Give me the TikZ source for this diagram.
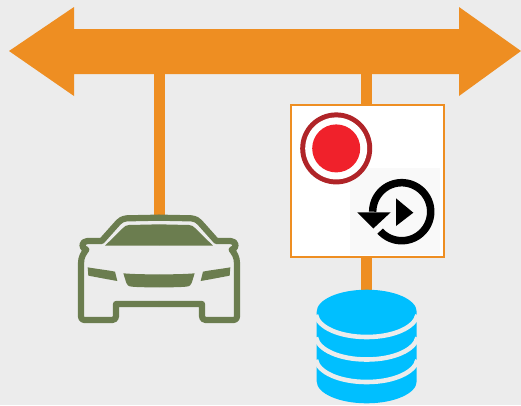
\documentclass[tikz,border=0pt]{standalone}
\definecolor{bgc}{HTML}{ECECEC}
\definecolor{orangec}{HTML}{EE8E22}
\definecolor{carc}{HTML}{6B7D4F}
\definecolor{dbc}{HTML}{00BFFF}
\definecolor{recc}{HTML}{F0212B}
\definecolor{ringc}{HTML}{B02428}
\tikzset{
  stem/.style={draw=orangec,line width=11pt},
  carline/.style={draw=carc,line width=6.2pt,line join=round,line cap=round},
  dbgap/.style={draw=bgc,line width=4.6pt},
}
\newcommand{\carhalf}{%
  \draw[carline] (0,38) -- (-97,40) .. controls (-110,42) and (-117,46) .. (-122,52)
    -- (-172,108) -- (-215,108) .. controls (-232,108) and (-236,130) .. (-218,134)
    .. controls (-226,145) and (-234,155) .. (-234,175)
    -- (-234,335) .. controls (-234,342) and (-230,345) .. (-224,345)
    -- (-140,345) .. controls (-132,345) and (-129,340) .. (-129,333)
    -- (-129,297) -- (0,297);
  \fill[carc] (0,58) -- (-90,60) .. controls (-98,61) and (-103,63) .. (-107,68)
    -- (-162,122) -- (0,122) -- cycle;
  \fill[carc] (-214,187) .. controls (-185,192) and (-150,196) .. (-132,200) -- (-125,228)
    .. controls (-160,222) and (-190,216) .. (-212,212) -- cycle;
  \fill[carc] (-107,205) .. controls (-70,208) and (-30,208) .. (0,208) -- (0,247)
    .. controls (-30,247) and (-60,247) .. (-82,245) .. controls (-92,244) and (-96,240) .. (-98,234) -- cycle;
}
\begin{document}
\begin{tikzpicture}[x=1pt,y=-1pt]
  \fill[bgc] (0,0) rectangle (521,405);
  \useasboundingbox (0,0) rectangle (521,405);
  % bus arrow
  \fill[orangec] (9,51) -- (74,7) -- (74,29) -- (459,29) -- (459,7) -- (521,51) -- (459,96) -- (459,74) -- (74,74) -- (74,96) -- cycle;
  \coordinate (busL) at (159.5,70);
  \coordinate (busR) at (366.5,70);
  \coordinate (carTop) at (159.5,218);
  \coordinate (dbTop) at (366.5,295);
  \draw[stem] (busL) -- (carTop);
  \draw[stem] (busR) -- (dbTop);
  % car
  \begin{scope}[shift={(159,205)},x=0.3333pt,y=-0.3333pt]
    \carhalf
  \end{scope}
  \begin{scope}[shift={(159,205)},x=-0.3333pt,y=-0.3333pt]
    \carhalf
  \end{scope}
  % box
  \node[draw=orangec,fill=white,line width=2pt,minimum width=153pt,minimum height=152pt,inner sep=0pt,outer sep=0pt] (panel) at (367,180.5) {};
  \fill[black!2.5] (350,168) rectangle (440,255);
  % record
  \fill[ringc] (336.2,148.4) circle[radius=36pt];
  \fill[white] (336.2,148.4) circle[radius=31pt];
  \fill[recc] (336.2,148.4) circle[radius=24pt];
  % replay
  \draw[line width=7.5pt,black] plot[domain=222:540,samples=80,smooth] ({401.7+29*cos(\x)},{211.7-29*sin(\x)});
  \fill[black] (357.3,212.3) -- (390.7,212.3) -- (373.3,228.5) -- cycle;
  \fill[black] (396,198.3) -- (413.3,212.7) -- (396,226) -- cycle;
  % database
  \fill[dbc] (316.7,311.7) .. controls (316.7,299.6) and (339,289.7) .. (366.7,289.7)
     .. controls (394.4,289.7) and (416.7,299.6) .. (416.7,311.7) -- (416.7,381.3)
     .. controls (416.7,393.4) and (394.4,403.3) .. (366.7,403.3)
     .. controls (339,403.3) and (316.7,393.4) .. (316.7,381.3) -- cycle;
  \foreach \c in {315,337.5,360}{
    \draw[dbgap] (316,\c) .. controls (318,\c+12) and (339,\c+22) .. (366.7,\c+22)
       .. controls (394.4,\c+22) and (415,\c+12) .. (417.4,\c);
  }
\end{tikzpicture}
\end{document}
